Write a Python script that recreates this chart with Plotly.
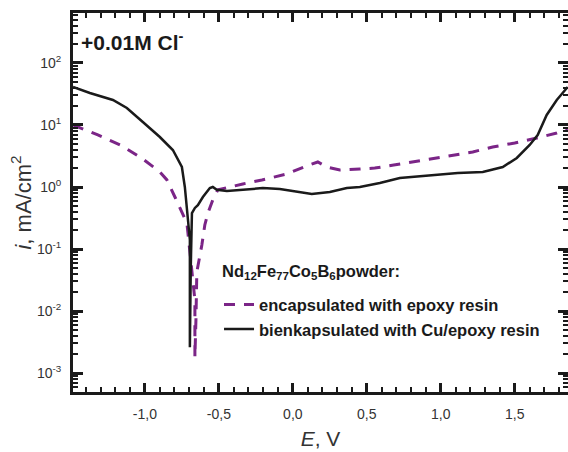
import plotly.graph_objects as go

# Data (E in V, i in mA/cm^2)
E_epoxy = [-1.486, -1.318, -1.155, -1.014, -0.899, -0.851, -0.797, -0.764, -0.716, -0.709,
           -0.696, -0.676, -0.662, -0.662, -0.662, -0.655, -0.649, -0.615, -0.595, -0.574,
           -0.541, -0.507, -0.378, -0.338, -0.209, -0.041, 0.108, 0.169, 0.23, 0.318,
           0.453, 0.554, 0.682, 0.804, 0.939, 1.074, 1.216, 1.351, 1.50, 1.649, 1.784, 1.858]
i_epoxy = [10.0, 6.9, 4.6, 2.83, 1.75, 1.30, 0.69, 0.475, 0.26, 0.18,
           0.09, 0.034, 0.015, 0.0049, 0.0018, 0.0072, 0.0426, 0.116, 0.244, 0.38,
           0.62, 0.90, 1.08, 1.12, 1.30, 1.62, 2.26, 2.53, 2.1, 1.88,
           1.95, 2.02, 2.26, 2.53, 2.83, 3.28, 3.67, 4.42, 5.13, 6.17, 7.43, 8.6]

E_cu = [-1.486, -1.372, -1.216, -1.122, -1.014, -0.899, -0.811, -0.764, -0.750, -0.730,
        -0.709, -0.696, -0.696, -0.696, -0.690, -0.682, -0.662, -0.642, -0.608, -0.561,
        -0.541, -0.514, -0.446, -0.358, -0.203, -0.088, 0.027, 0.128, 0.25, 0.365,
        0.453, 0.588, 0.723, 0.858, 0.993, 1.115, 1.284, 1.419, 1.514, 1.601, 1.655,
        1.716, 1.784, 1.858]
i_cu = [41, 32.8, 25.3, 18.8, 11.2, 6.4, 3.95, 2.53, 2.1, 1.0,
        0.33, 0.14, 0.015, 0.0026, 0.05, 0.38, 0.46, 0.51, 0.69, 0.96,
        1.0, 0.9, 0.86, 0.90, 0.96, 0.93, 0.83, 0.77, 0.83, 0.96,
        1.0, 1.16, 1.40, 1.50, 1.62, 1.68, 1.75, 2.1, 2.94, 4.76, 6.9,
        14.5, 25.3, 41]

x_tickvals = [-1.0, -0.5, 0.0, 0.5, 1.0, 1.5]
x_ticktext = ["-1,0", "-0,5", "0,0", "0,5", "1,0", "1,5"]
y_tickvals = [1e-3, 1e-2, 1e-1, 1e0, 1e1, 1e2]
y_ticktext = ["10<sup>-3</sup>", "10<sup>-2</sup>", "10<sup>-1</sup>",
              "10<sup>0</sup>", "10<sup>1</sup>", "10<sup>2</sup>"]

# minor tick positions (axis decoration only)
x_minor = [round(-1.4 + 0.1 * k, 2) for k in range(33)]
y_minor = [m * 10.0 ** d for d in range(-4, 3) for m in range(2, 10)]

FONT = "Arial, Liberation Sans, sans-serif"
PURPLE = "#7B2587"
INK = "#1a1a1a"

fig = go.Figure()
fig.add_trace(go.Scatter(x=E_epoxy, y=i_epoxy, mode="lines",
                         name="<b>encapsulated with epoxy resin</b>",
                         line=dict(color=PURPLE, width=3, dash="11px,9px")))
fig.add_trace(go.Scatter(x=E_cu, y=i_cu, mode="lines",
                         name="<b>bienkapsulated with Cu/epoxy resin</b>",
                         line=dict(color=INK, width=2.5)))

fig.update_layout(
    width=568, height=452,
    margin=dict(l=73, r=0, t=13, b=60),
    paper_bgcolor="white", plot_bgcolor="white",
    font=dict(family=FONT, size=14, color="#333333"),
    showlegend=True,
    legend=dict(
        x=0.295, y=0.276, xanchor="left", yanchor="top",
        bgcolor="rgba(0,0,0,0)",
        font=dict(family=FONT, size=16.5, color=INK),
        tracegroupgap=0, itemwidth=30,
    ),
    annotations=[
        dict(text="<b>+0.01M Cl<sup>-</sup></b>", xref="paper", yref="paper",
             x=0.012, y=0.925, xanchor="left", yanchor="middle", showarrow=False,
             font=dict(family=FONT, size=21, color=INK)),
        dict(text="<b>Nd<sub>12</sub>Fe<sub>77</sub>Co<sub>5</sub>B<sub>6</sub>powder:</b>",
             xref="paper", yref="paper", x=0.297, y=0.3166, xanchor="left", yanchor="middle",
             showarrow=False, font=dict(family=FONT, size=16.5, color=INK)),
    ],
)

fig.update_xaxes(
    range=[-1.486, 1.86], automargin=False,
    tickvals=x_tickvals, ticktext=x_ticktext,
    ticks="inside", ticklen=9, tickwidth=2.5, tickcolor=INK,
    showline=True, linewidth=3, linecolor=INK, mirror="ticks",
    showgrid=False, zeroline=False, ticklabelstandoff=7,
    minor=dict(tickmode="array", tickvals=x_minor, ticks="inside", ticklen=5,
               tickwidth=2, tickcolor=INK, showgrid=False),
    title=dict(text="<i>E</i>, V", font=dict(family=FONT, size=21, color="#333333"), standoff=11),
    tickfont=dict(family=FONT, size=14, color="#333333"),
)
fig.update_yaxes(
    type="log", range=[-3.306, 2.806], automargin=False,
    tickvals=y_tickvals, ticktext=y_ticktext,
    ticks="inside", ticklen=10, tickwidth=2.5, tickcolor=INK,
    showline=True, linewidth=3, linecolor=INK, mirror="ticks",
    showgrid=False, zeroline=False, ticklabelstandoff=6,
    minor=dict(tickmode="array", tickvals=y_minor, ticks="inside", ticklen=5,
               tickwidth=2, tickcolor=INK, showgrid=False),
    title=dict(text="<i>i</i>, mA/cm<sup>2</sup>", font=dict(family=FONT, size=22, color="#333333"), standoff=0),
    tickfont=dict(family=FONT, size=14, color="#333333"),
)

fig.write_html(
    "out.html",
    config={"displayModeBar": False},
    post_script="document.body.style.margin='0';document.body.style.overflow='hidden';",
)
